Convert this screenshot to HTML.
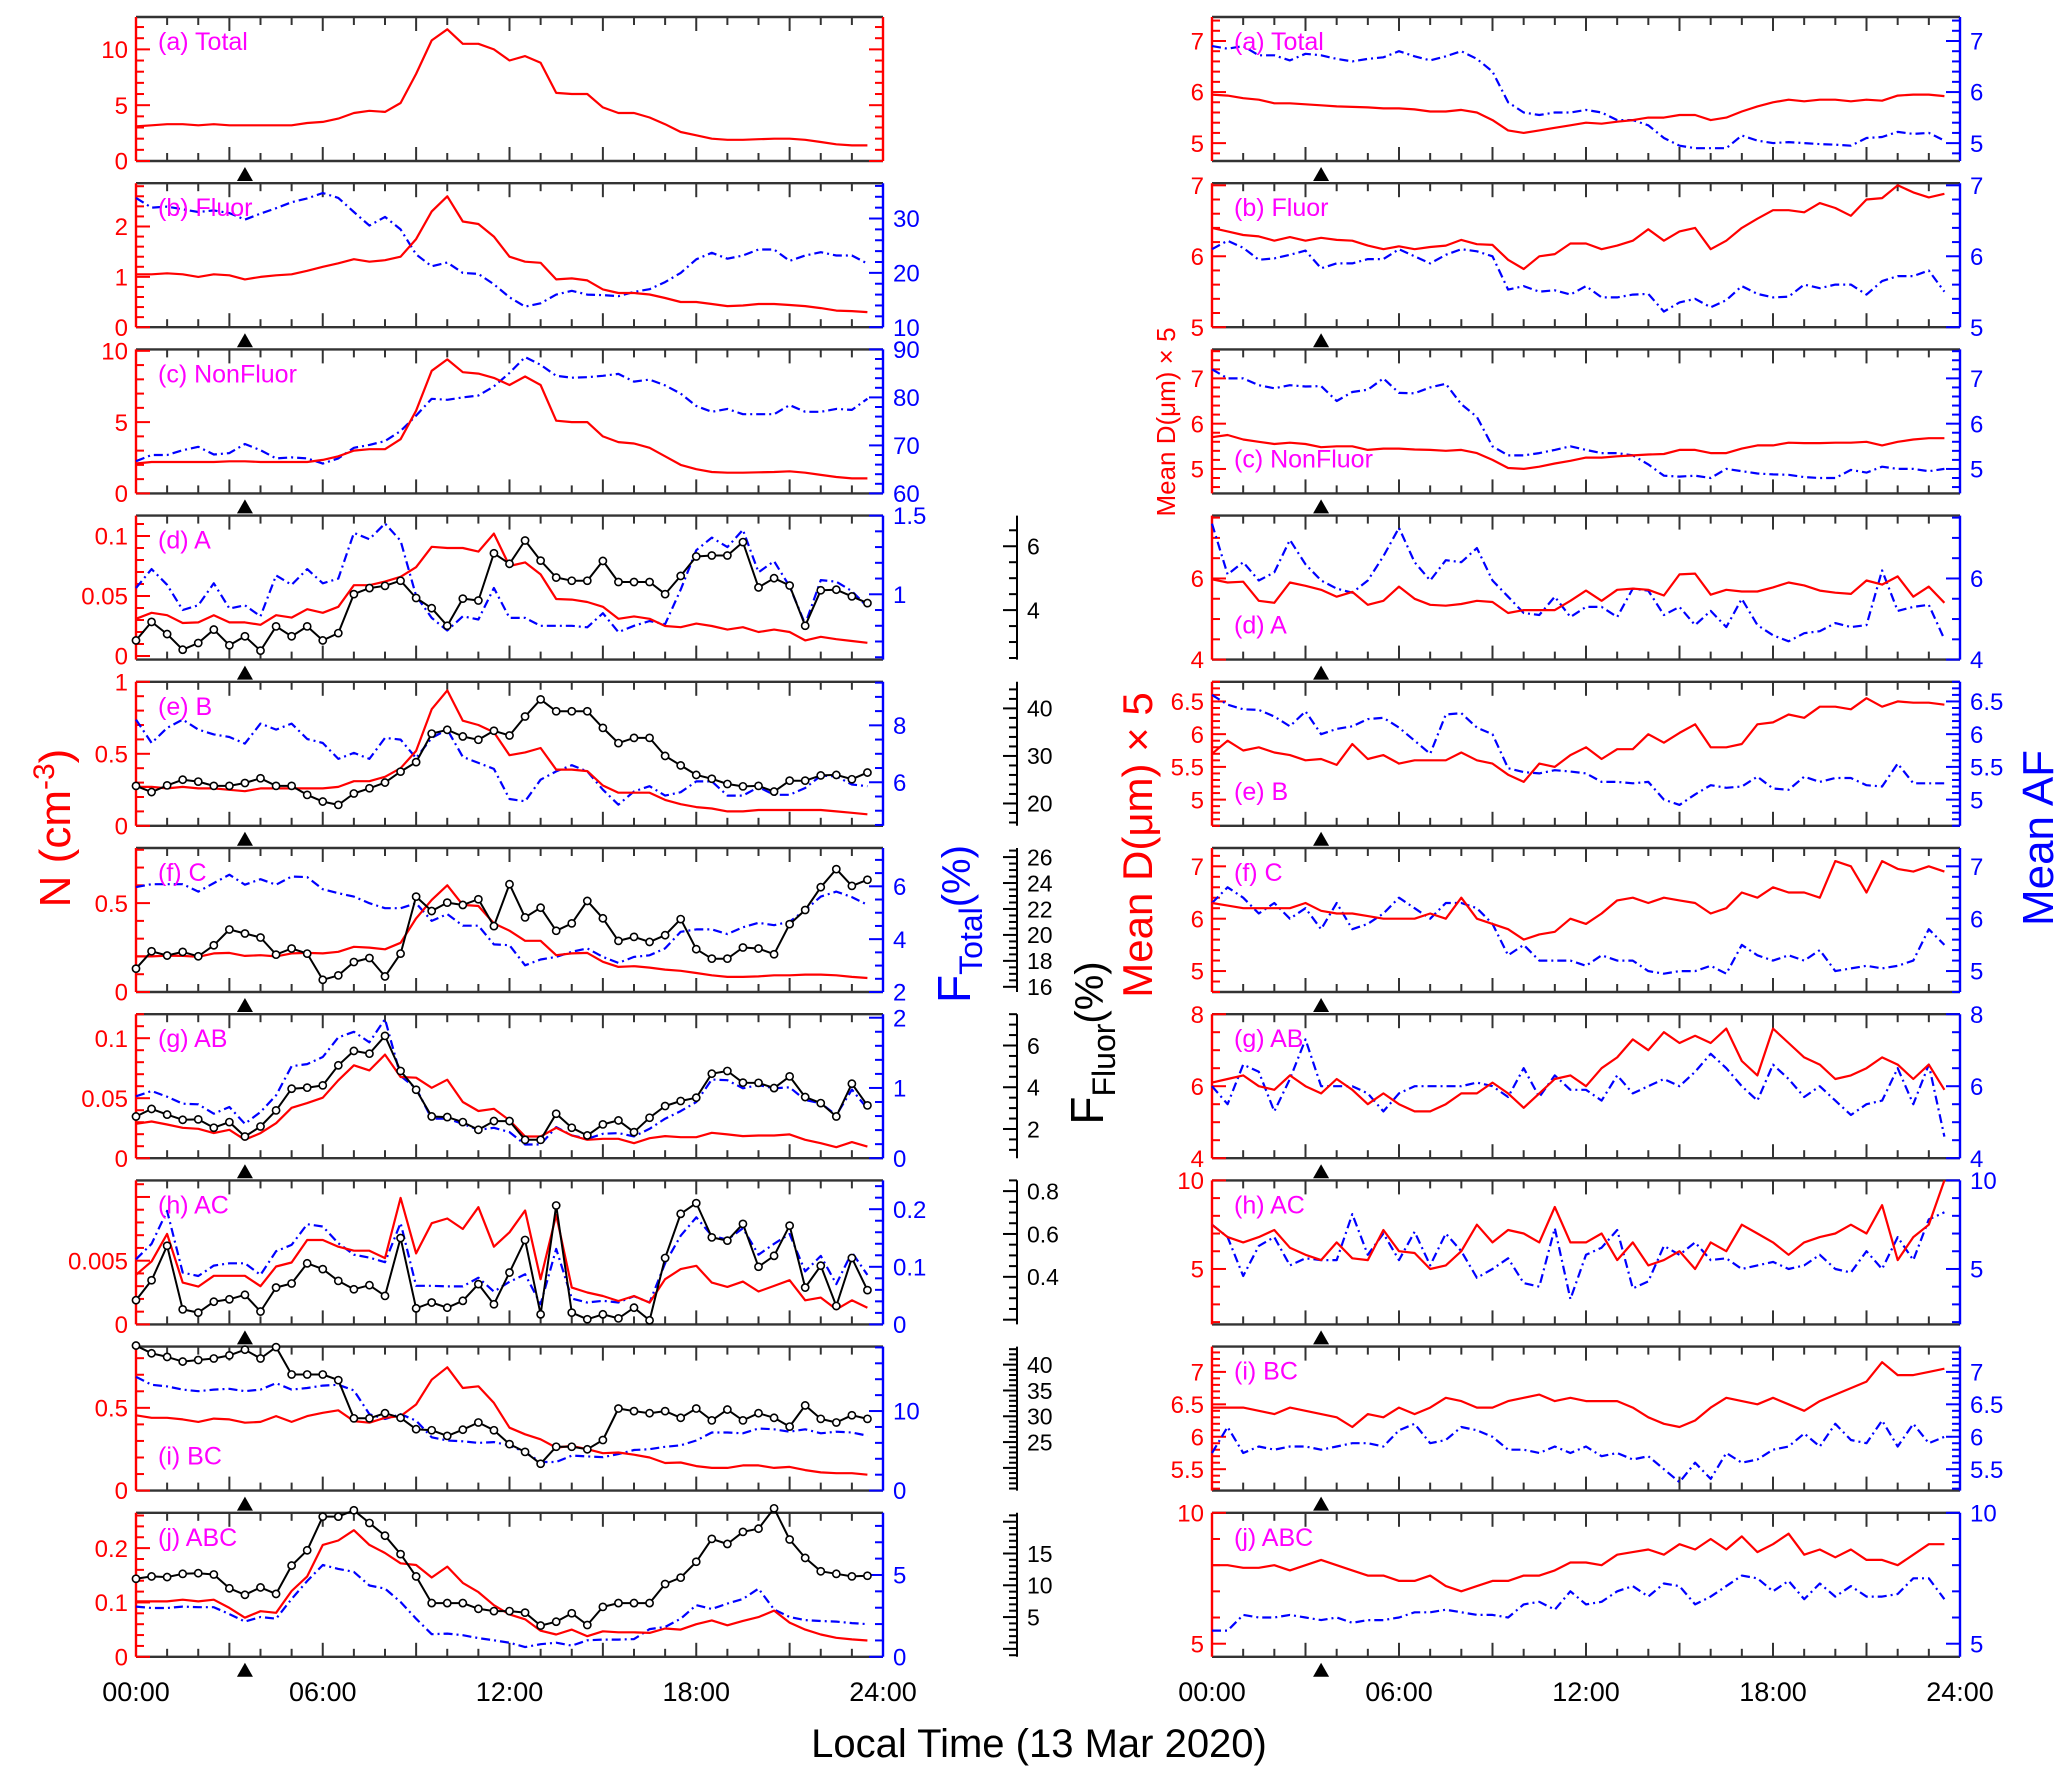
<!DOCTYPE html>
<html><head><meta charset="utf-8"><title>Time series</title>
<style>html,body{margin:0;padding:0;background:#fff}svg{display:block}text{font-family:"Liberation Sans",Arial,sans-serif}</style>
</head><body>
<svg id="chart" xmlns="http://www.w3.org/2000/svg" width="2067" height="1781" viewBox="0 0 2067 1781">
<rect width="2067" height="1781" fill="#fff"/>
<text transform="translate(70,828) rotate(-90)" text-anchor="middle" font-size="44" fill="#f00">N (cm<tspan font-size="30" dy="-16">-3</tspan><tspan dy="16">)</tspan></text>
<text transform="translate(970,924) rotate(-90)" text-anchor="middle" font-size="46" fill="#00f">F<tspan font-size="32" dy="12">Total</tspan><tspan font-size="40" dy="-12">(%)</tspan></text>
<text transform="translate(1103,1043) rotate(-90)" text-anchor="middle" font-size="46" fill="#000">F<tspan font-size="32" dy="12">Fluor</tspan><tspan font-size="40" dy="-12">(%)</tspan></text>
<text transform="translate(1175,422) rotate(-90)" text-anchor="middle" font-size="26" fill="#f00">Mean D(μm) × 5</text>
<text transform="translate(1152,845) rotate(-90)" text-anchor="middle" font-size="42" fill="#f00">Mean D(μm) × 5</text>
<text transform="translate(2053,838) rotate(-90)" text-anchor="middle" font-size="44" fill="#00f">Mean AF</text>
<text x="1039" y="1757" text-anchor="middle" font-size="40" fill="#000">Local Time (13 Mar 2020)</text>
</svg>
<script>
// ---------- data (48 half-hourly values, 00:00 - 23:30) ----------
const times = [0,0.5,1,1.5,2,2.5,3,3.5,4,4.5,5,5.5,6,6.5,7,7.5,8,8.5,9,9.5,10,10.5,11,11.5,12,12.5,13,13.5,14,14.5,15,15.5,16,16.5,17,17.5,18,18.5,19,19.5,20,20.5,21,21.5,22,22.5,23,23.5];
const xTickLabels = ["00:00","06:00","12:00","18:00","24:00"];
const xTickHours = [0,6,12,18,24];
const markerHour = 3.5;

const aTotalN = [3.1,3.2,3.3,3.3,3.2,3.3,3.2,3.2,3.2,3.2,3.2,3.4,3.5,3.8,4.3,4.5,4.4,5.2,7.8,10.8,11.8,10.5,10.5,10.0,9.0,9.4,8.8,6.1,6.0,6.0,4.8,4.3,4.3,3.9,3.3,2.6,2.3,2.0,1.9,1.9,1.95,2.0,2.0,1.9,1.7,1.5,1.4,1.4];
const bFluorN = [1.05,1.05,1.07,1.05,1.0,1.05,1.03,0.95,1.0,1.03,1.05,1.12,1.2,1.27,1.35,1.3,1.33,1.4,1.75,2.3,2.6,2.1,2.05,1.8,1.4,1.3,1.28,0.95,0.97,0.93,0.75,0.68,0.68,0.65,0.58,0.5,0.5,0.46,0.42,0.43,0.46,0.46,0.44,0.42,0.38,0.33,0.32,0.3];
const bFluorFT = [33.8,32,32.2,31.7,31.2,31.5,31,29.8,30.9,31.9,33,33.7,34.7,33.8,31.2,28.7,30.3,28,23.4,21.2,21.9,20,19.8,17.9,15.5,13.8,14.4,16,16.7,16,15.9,15.7,16.5,17,18.3,20,22.5,23.7,22.6,23.2,24.3,24.3,22.2,23.2,23.8,23.2,23.2,21.7];
const cNonN = [2.1,2.2,2.2,2.2,2.2,2.2,2.25,2.25,2.2,2.2,2.2,2.2,2.35,2.6,3.0,3.1,3.1,3.8,5.8,8.6,9.4,8.5,8.4,8.1,7.6,8.2,7.6,5.1,5.0,5.0,4.0,3.6,3.5,3.2,2.6,2.0,1.7,1.5,1.45,1.45,1.48,1.5,1.55,1.45,1.3,1.15,1.05,1.05];
const cNonFT = [66.7,68,68,69,69.7,68.1,68.4,70.3,69,67.3,67.5,67.3,66.2,67.3,69.5,70.1,70.9,73,76.2,79.7,79.5,80,80.4,82.3,85.1,88.4,86.8,84.5,84.1,84.2,84.5,84.9,83.3,83.7,82.5,80.8,78.2,77,77.6,76.5,76.5,76.5,78.4,77,77,77.6,77.4,79.7];
const dAN = [0.031,0.036,0.034,0.0275,0.028,0.034,0.028,0.028,0.026,0.034,0.032,0.039,0.036,0.041,0.059,0.059,0.062,0.066,0.074,0.091,0.09,0.09,0.087,0.102,0.075,0.078,0.068,0.0475,0.047,0.045,0.041,0.031,0.033,0.031,0.025,0.024,0.027,0.025,0.022,0.024,0.02,0.022,0.02,0.013,0.016,0.014,0.0125,0.011];
const dAFT = [1.04,1.16,1.06,0.90,0.93,1.07,0.91,0.93,0.86,1.12,1.06,1.16,1.07,1.10,1.39,1.35,1.45,1.34,0.99,0.85,0.77,0.86,0.84,1.04,0.85,0.85,0.80,0.80,0.80,0.79,0.88,0.76,0.80,0.83,0.81,1.03,1.28,1.36,1.30,1.41,1.14,1.21,1.05,0.81,1.09,1.08,1.02,0.92];
const dAFF = [3.05,3.63,3.25,2.76,2.97,3.39,2.90,3.18,2.73,3.49,3.18,3.49,3.05,3.28,4.50,4.69,4.76,4.92,4.38,4.06,3.51,4.36,4.30,5.78,5.45,6.18,5.55,5.02,4.92,4.92,5.54,4.88,4.88,4.88,4.50,5.07,5.68,5.71,5.71,6.13,4.71,5.00,4.77,3.51,4.62,4.64,4.43,4.22];
const eBN = [0.27,0.27,0.26,0.27,0.26,0.26,0.25,0.24,0.26,0.26,0.26,0.26,0.26,0.27,0.31,0.31,0.34,0.40,0.52,0.81,0.94,0.73,0.70,0.65,0.49,0.51,0.54,0.39,0.39,0.38,0.28,0.23,0.23,0.23,0.18,0.15,0.13,0.12,0.10,0.10,0.11,0.11,0.11,0.11,0.11,0.10,0.09,0.08];
const eBFT = [8.20,7.38,7.91,8.20,7.85,7.68,7.59,7.36,8.06,7.85,8.06,7.52,7.38,6.82,7.03,6.82,7.56,7.50,6.85,7.56,7.85,6.89,6.68,6.47,5.41,5.33,6.09,6.38,6.60,6.38,5.74,5.21,5.68,5.86,5.53,5.65,6.03,6.03,5.53,5.53,5.83,5.56,5.56,5.80,6.23,6.21,5.92,5.86];
const eBFF = [23.7,22.4,23.8,25.0,24.6,23.7,23.7,24.3,25.3,23.7,23.7,21.8,20.4,19.7,22.1,23.2,24.4,26.7,28.7,34.7,35.5,34.1,33.4,35.3,34.3,38.3,41.9,39.4,39.4,39.4,35.9,32.7,33.8,33.8,30.0,28.0,26.0,25.2,24.1,23.6,23.7,22.5,24.8,24.8,25.9,26.0,25.1,26.5];
const fCN = [0.20,0.20,0.205,0.203,0.198,0.217,0.22,0.203,0.207,0.20,0.217,0.22,0.217,0.226,0.254,0.25,0.24,0.277,0.414,0.518,0.60,0.49,0.484,0.386,0.345,0.288,0.288,0.207,0.217,0.22,0.17,0.141,0.145,0.137,0.126,0.119,0.107,0.094,0.085,0.085,0.088,0.094,0.094,0.098,0.098,0.094,0.085,0.079];
const fCFT = [5.97,6.08,6.08,6.08,5.80,6.12,6.44,6.06,6.27,6.06,6.37,6.35,5.89,5.74,5.61,5.36,5.17,5.17,5.36,4.69,4.95,4.51,4.51,3.80,3.77,3.01,3.23,3.33,3.52,3.65,3.33,3.10,3.33,3.39,3.65,4.28,4.37,4.37,4.19,4.45,4.62,4.53,4.66,5.10,5.61,5.80,5.59,5.30];
const fCFF = [17.4,18.74,18.41,18.69,18.35,19.2,20.42,20.11,19.8,18.48,18.95,18.56,16.54,16.88,17.91,18.22,16.8,18.56,22.95,21.84,22.49,22.31,22.75,20.68,23.91,21.35,22.1,20.32,20.89,22.62,21.28,19.54,19.85,19.46,19.98,21.22,18.9,18.17,18.17,19.03,18.95,18.51,20.83,21.92,23.68,25.07,23.78,24.25];
const gABN = [0.0287,0.0306,0.0281,0.0253,0.0245,0.0209,0.0237,0.0153,0.0209,0.0292,0.0420,0.0459,0.0504,0.0649,0.0774,0.0732,0.0863,0.0677,0.0671,0.0587,0.0654,0.0468,0.0393,0.0412,0.0316,0.0181,0.0181,0.0253,0.0189,0.0153,0.0162,0.0162,0.0125,0.0167,0.0184,0.0175,0.0175,0.0212,0.0198,0.0184,0.0189,0.0189,0.0198,0.0153,0.0125,0.0092,0.0134,0.0097];
const gABFT = [0.881,0.957,0.876,0.776,0.767,0.633,0.729,0.490,0.657,0.895,1.31,1.34,1.44,1.72,1.80,1.65,1.98,1.17,0.995,0.562,0.562,0.490,0.405,0.433,0.371,0.195,0.195,0.443,0.324,0.276,0.348,0.357,0.310,0.419,0.562,0.671,0.800,1.12,1.11,0.995,1.04,0.995,1.01,0.829,0.781,0.614,0.976,0.705];
const gABFF = [2.60,2.96,2.69,2.44,2.46,2.06,2.33,1.64,2.12,2.89,3.93,3.98,4.09,5.05,5.74,5.61,6.46,4.78,3.88,2.60,2.57,2.33,1.96,2.38,2.38,1.48,1.48,2.73,2.06,1.69,2.22,2.41,1.85,2.54,3.10,3.34,3.50,4.65,4.78,4.22,4.21,3.96,4.52,3.53,3.24,2.60,4.17,3.13];
const hACN = [0.00389,0.00494,0.0071,0.00328,0.00297,0.00381,0.00381,0.00381,0.003,0.00454,0.00486,0.00662,0.00662,0.0061,0.00578,0.00578,0.0052,0.00993,0.00557,0.00794,0.00831,0.00749,0.0092,0.0061,0.00723,0.00894,0.00355,0.00859,0.00289,0.0025,0.00223,0.00184,0.00223,0.00171,0.00355,0.00434,0.0046,0.00328,0.00294,0.00336,0.00258,0.00302,0.00347,0.00189,0.0021,0.00118,0.00189,0.00131];
const hACFT = [0.113,0.140,0.197,0.090,0.084,0.102,0.106,0.106,0.086,0.127,0.138,0.174,0.170,0.141,0.121,0.116,0.108,0.176,0.067,0.067,0.066,0.066,0.081,0.057,0.074,0.087,0.035,0.131,0.045,0.038,0.041,0.038,0.049,0.038,0.106,0.154,0.186,0.154,0.147,0.167,0.121,0.140,0.157,0.092,0.119,0.070,0.125,0.086];
const hACFF = [0.291,0.384,0.545,0.248,0.233,0.284,0.295,0.316,0.238,0.35,0.369,0.463,0.436,0.381,0.342,0.361,0.311,0.581,0.253,0.28,0.256,0.288,0.366,0.272,0.42,0.572,0.225,0.733,0.233,0.202,0.225,0.206,0.256,0.197,0.488,0.694,0.744,0.584,0.569,0.647,0.447,0.498,0.639,0.35,0.452,0.264,0.488,0.338];
const iBCN = [0.455,0.44,0.44,0.43,0.415,0.435,0.43,0.41,0.415,0.45,0.415,0.45,0.47,0.485,0.42,0.41,0.44,0.45,0.52,0.67,0.745,0.62,0.63,0.53,0.38,0.34,0.31,0.26,0.27,0.25,0.226,0.23,0.217,0.2,0.167,0.17,0.148,0.137,0.137,0.152,0.152,0.137,0.143,0.124,0.11,0.105,0.105,0.096];
const iBCFT = [14.3,13.3,13.1,12.7,12.5,12.7,12.8,12.5,12.7,13.5,12.7,12.9,13.2,13.3,12.6,9.6,9.0,9.6,8.8,6.7,6.3,6.2,6.0,6.1,5.7,4.8,3.6,3.6,4.4,4.3,4.2,4.6,5.1,5.2,5.5,5.7,6.3,7.3,7.3,7.2,7.8,7.7,7.4,7.7,7.2,7.4,7.3,6.9];
const iBCFF = [43.7,42.2,41.5,40.6,40.9,41.2,41.8,42.9,41.2,43.4,38.1,38.1,38.1,37.0,29.6,29.6,30.6,29.7,27.5,27.3,26.2,27.4,28.8,27.3,24.6,23.1,20.8,24.1,24.1,23.6,25.4,31.5,31.0,30.6,31.0,29.7,31.5,29.2,31.3,29.2,30.6,29.7,28.0,32.1,29.5,28.8,30.2,29.5];
const jABCN = [0.102,0.102,0.102,0.105,0.102,0.105,0.09,0.072,0.084,0.081,0.121,0.148,0.206,0.214,0.233,0.206,0.191,0.172,0.169,0.146,0.166,0.136,0.119,0.095,0.078,0.069,0.048,0.041,0.05,0.038,0.047,0.045,0.045,0.044,0.052,0.05,0.06,0.067,0.058,0.066,0.073,0.085,0.063,0.05,0.041,0.035,0.032,0.030];
const jABCFT = [3.07,2.98,2.98,3.07,3.03,3.03,2.61,2.15,2.43,2.33,3.53,4.63,5.61,5.37,5.19,4.36,4.17,3.35,2.33,1.38,1.42,1.32,1.14,1.01,0.86,0.59,0.77,0.86,0.68,1.01,1.05,1.05,1.08,1.69,1.82,2.33,3.16,2.92,3.25,3.53,4.17,2.89,2.43,2.24,2.19,2.15,2.06,2.0];
const jABCFF = [11.03,11.39,11.29,11.8,11.9,11.7,9.52,8.5,9.66,8.64,13.1,15.5,20.8,20.8,21.8,19.8,17.8,14.9,11.39,7.2,7.2,7.2,6.3,5.94,5.94,5.7,3.66,4.27,5.6,3.75,6.6,7.2,7.2,7.2,10.2,11.2,13.7,17.3,16.5,18.4,18.9,22.1,17.2,14.3,12.2,11.8,11.4,11.5];

const aD = [5.95,5.93,5.88,5.85,5.78,5.78,5.76,5.74,5.72,5.71,5.7,5.68,5.68,5.66,5.62,5.62,5.65,5.6,5.45,5.25,5.2,5.25,5.3,5.35,5.4,5.38,5.42,5.45,5.5,5.5,5.55,5.55,5.45,5.5,5.62,5.72,5.8,5.85,5.82,5.85,5.85,5.82,5.85,5.83,5.93,5.95,5.95,5.92];
const aAF = [6.9,6.85,6.9,6.72,6.72,6.62,6.75,6.72,6.65,6.6,6.65,6.68,6.8,6.7,6.62,6.7,6.8,6.65,6.4,5.8,5.6,5.55,5.6,5.6,5.65,5.6,5.45,5.45,5.35,5.1,4.95,4.9,4.9,4.9,5.15,5.05,5.0,5.02,5.0,4.98,4.97,4.95,5.1,5.12,5.22,5.18,5.2,5.05];
const bD = [6.4,6.35,6.3,6.28,6.22,6.27,6.22,6.26,6.23,6.22,6.15,6.1,6.14,6.1,6.13,6.15,6.23,6.17,6.16,5.95,5.82,6.0,6.03,6.18,6.18,6.1,6.15,6.22,6.38,6.22,6.35,6.4,6.1,6.22,6.4,6.53,6.65,6.65,6.62,6.75,6.68,6.57,6.8,6.82,7.0,6.9,6.83,6.88];
const bAF = [6.1,6.22,6.12,5.95,5.97,6.02,6.08,5.83,5.9,5.9,5.96,5.96,6.1,6.0,5.9,6.02,6.1,6.07,6.0,5.53,5.58,5.5,5.52,5.46,5.58,5.42,5.42,5.46,5.47,5.22,5.35,5.4,5.28,5.38,5.58,5.47,5.42,5.43,5.6,5.55,5.6,5.6,5.46,5.65,5.72,5.72,5.8,5.5];
const cD = [5.7,5.75,5.65,5.6,5.55,5.58,5.55,5.48,5.5,5.5,5.42,5.45,5.45,5.43,5.42,5.4,5.42,5.35,5.2,5.02,5.0,5.05,5.12,5.18,5.25,5.25,5.28,5.3,5.32,5.33,5.42,5.42,5.35,5.35,5.45,5.52,5.52,5.58,5.57,5.57,5.58,5.58,5.6,5.52,5.6,5.65,5.68,5.68];
const cAF = [7.2,7.0,7.0,6.85,6.78,6.85,6.82,6.83,6.5,6.7,6.75,7.0,6.68,6.67,6.8,6.88,6.43,6.15,5.5,5.3,5.3,5.35,5.42,5.5,5.42,5.35,5.35,5.3,5.1,4.85,4.83,4.85,4.8,5.0,4.95,4.9,4.88,4.87,4.82,4.8,4.8,4.98,4.92,5.05,5.0,5.0,4.95,5.0];
const dD = [5.98,5.9,5.92,5.45,5.4,5.9,5.82,5.72,5.55,5.67,5.35,5.45,5.8,5.5,5.35,5.33,5.37,5.45,5.42,5.15,5.22,5.22,5.22,5.45,5.7,5.45,5.72,5.75,5.72,5.58,6.1,6.12,5.6,5.72,5.68,5.68,5.78,5.9,5.83,5.7,5.65,5.62,5.95,5.85,6.05,5.55,5.8,5.4];
const dAF = [7.35,6.1,6.4,5.95,6.15,6.95,6.35,5.95,5.75,5.65,5.95,6.55,7.25,6.4,5.95,6.45,6.4,6.75,5.95,5.55,5.15,5.1,5.55,5.05,5.3,5.3,5.05,5.75,5.7,5.1,5.3,4.85,5.2,4.8,5.5,4.85,4.6,4.45,4.65,4.7,4.9,4.8,4.85,6.2,5.2,5.3,5.35,4.5];
const eD = [5.7,5.9,5.75,5.8,5.72,5.68,5.6,5.62,5.53,5.85,5.62,5.68,5.55,5.6,5.6,5.6,5.72,5.6,5.55,5.38,5.27,5.55,5.5,5.68,5.8,5.62,5.77,5.77,6.0,5.87,6.02,6.15,5.8,5.8,5.85,6.15,6.18,6.3,6.25,6.42,6.42,6.38,6.55,6.42,6.5,6.48,6.48,6.45];
const eAF = [6.6,6.45,6.38,6.37,6.27,6.12,6.35,6.0,6.08,6.12,6.23,6.25,6.1,5.9,5.7,6.3,6.32,6.1,6.0,5.48,5.42,5.4,5.45,5.43,5.4,5.27,5.27,5.25,5.27,5.0,4.92,5.08,5.22,5.18,5.2,5.35,5.17,5.15,5.35,5.27,5.33,5.33,5.22,5.2,5.55,5.25,5.25,5.25];
const fD = [6.3,6.25,6.2,6.2,6.2,6.2,6.3,6.15,6.1,6.1,6.05,6.0,6.0,6.0,6.1,6.0,6.4,6.0,5.9,5.8,5.6,5.7,5.75,6.0,5.9,6.1,6.35,6.4,6.3,6.4,6.35,6.3,6.1,6.2,6.5,6.4,6.6,6.5,6.5,6.4,7.1,7.0,6.5,7.1,6.95,6.9,7.0,6.9];
const fAF = [6.3,6.6,6.4,6.1,6.3,6.0,6.2,5.8,6.3,5.8,5.9,6.1,6.4,6.2,6.0,6.3,6.3,6.2,5.9,5.3,5.5,5.2,5.2,5.2,5.1,5.3,5.2,5.2,5.0,4.95,5.0,5.0,5.1,4.95,5.5,5.3,5.2,5.3,5.2,5.4,5.0,5.05,5.1,5.05,5.1,5.2,5.8,5.5];
const gD = [6.1,6.2,6.3,6.0,5.9,6.3,6.0,5.8,6.2,5.9,5.5,5.8,5.5,5.3,5.3,5.5,5.8,5.8,6.1,5.8,5.4,5.8,6.2,6.3,6.0,6.5,6.8,7.3,7.0,7.5,7.2,7.4,7.2,7.6,6.7,6.3,7.6,7.2,6.8,6.6,6.2,6.3,6.5,6.8,6.6,6.2,6.6,5.9];
const gAF = [6.0,5.5,6.6,6.4,5.3,6.2,7.3,6.0,6.0,6.0,5.8,5.3,5.8,6.0,6.0,6.0,6.0,6.1,6.0,5.7,6.5,5.7,6.3,5.9,5.9,5.6,6.3,5.8,6.0,6.2,6.0,6.4,6.9,6.5,6.0,5.6,6.6,6.2,5.7,6.0,5.6,5.2,5.5,5.6,6.5,5.5,6.6,4.6];
const hD = [7.5,6.8,6.5,6.8,7.2,6.2,5.8,5.5,6.5,5.6,5.5,7.2,6.0,5.9,5.0,5.2,6.0,7.5,6.5,7.2,7.0,6.5,8.5,6.5,6.5,7.0,5.5,6.5,5.2,5.5,6.0,5.0,6.5,6.0,7.5,7.0,6.5,5.8,6.5,6.8,7.0,7.5,7.0,8.6,5.5,6.8,7.5,10];
const hAF = [7.5,6.8,4.6,6.3,6.8,5.2,5.6,5.5,5.5,8.1,5.8,7.0,5.5,7.1,5.2,7.0,6.0,4.5,5.0,5.6,4.2,4.0,7.3,3.3,5.8,6.2,7.2,3.9,4.3,6.3,5.8,6.5,5.5,5.6,5.0,5.2,5.4,5.0,5.2,5.8,5.0,4.8,6.0,5.0,6.8,5.5,7.8,8.2];
const iD = [6.45,6.45,6.45,6.4,6.35,6.45,6.4,6.35,6.3,6.15,6.35,6.3,6.45,6.35,6.45,6.6,6.55,6.45,6.45,6.55,6.6,6.65,6.55,6.6,6.55,6.55,6.55,6.45,6.3,6.2,6.15,6.25,6.45,6.6,6.55,6.5,6.6,6.5,6.4,6.55,6.65,6.75,6.85,7.15,6.95,6.95,7.0,7.05];
const iAF = [5.75,6.15,5.75,5.85,5.8,5.85,5.85,5.8,5.85,5.9,5.9,5.85,6.1,6.2,5.9,5.95,6.15,6.1,6.0,5.8,5.8,5.75,5.85,5.75,5.85,5.7,5.75,5.65,5.7,5.5,5.3,5.6,5.35,5.75,5.6,5.65,5.8,5.85,6.05,5.85,6.2,5.95,5.9,6.25,5.85,6.2,5.9,6.0];
const jD = [8.0,8.0,7.9,7.9,8.0,7.8,8.0,8.2,8.0,7.8,7.6,7.6,7.4,7.4,7.6,7.2,7.0,7.2,7.4,7.4,7.6,7.6,7.8,8.1,8.1,8.0,8.4,8.5,8.6,8.4,8.8,8.6,9.0,8.6,9.1,8.5,8.8,9.2,8.4,8.6,8.3,8.6,8.2,8.2,8.0,8.4,8.8,8.8];
const jAF = [5.5,5.5,6.1,6.0,6.0,6.1,6.0,5.9,6.0,5.8,5.9,5.9,6.0,6.2,6.2,6.3,6.2,6.1,6.1,6.0,6.5,6.6,6.3,7.0,6.5,6.6,7.0,7.2,6.8,7.3,7.2,6.5,6.8,7.2,7.6,7.5,7.0,7.4,6.7,7.3,6.8,7.2,6.8,6.8,6.9,7.5,7.5,6.7];

// ---------- layout ----------
const svg = document.getElementById('chart');
const NS = 'http://www.w3.org/2000/svg';
const RED = '#ff0000', BLUE = '#0000ff', MAG = '#ff00ff', DARK = '#333333';
function mk(tag, attrs, parent) {
  const e = document.createElementNS(NS, tag);
  for (const k in attrs) e.setAttribute(k, attrs[k]);
  (parent || svg).appendChild(e);
  return e;
}
function decimals(s) { const t = String(s); const i = t.indexOf('.'); return i < 0 ? 0 : t.length - i - 1; }

const COLS = [{x0: 136, w: 747}, {x0: 1212, w: 748}];
function panelTop(i) { return 17 + 166.2 * i; }
const PH = 144;

function drawYAxis(g, ax, x, top, dir, color, labelSide, fs, showLabels) {
  const ys = v => top + PH - (v - ax.min) / (ax.max - ax.min) * PH;
  const dec = decimals(ax.major);
  const lmin = ax.lmin !== undefined ? ax.lmin : -Infinity;
  const lmax = ax.lmax !== undefined ? ax.lmax : Infinity;
  const k0 = Math.ceil(ax.min / ax.minor - 1e-6), k1 = Math.floor(ax.max / ax.minor + 1e-6);
  for (let k = k0; k <= k1; k++) {
    const v = k * ax.minor;
    const isMaj = Math.abs(v / ax.major - Math.round(v / ax.major)) < 1e-6;
    const y = ys(v);
    const t = mk('line', {x1: x, x2: x + dir * (isMaj ? 14 : 8), y1: y, y2: y, stroke: color, 'stroke-width': 2}, g);
    
    
    if (isMaj && showLabels && v >= lmin - 1e-9 && v <= lmax + 1e-9) {
      const lbl = Math.abs(v) < 1e-9 ? '0' : String(parseFloat(v.toFixed(dec)));
      const tx = mk('text', {x: labelSide < 0 ? x - 8 : x + 10, y: y + fs * 0.36, 'font-size': fs, fill: color, 'text-anchor': labelSide < 0 ? 'end' : 'start'}, g);
      tx.textContent = lbl;
      
      
    }
  }
  return ys;
}

function drawSeries(g, data, xs, ys, kind) {
  const pts = data.map((v, i) => xs(times[i]).toFixed(1) + ',' + ys(v).toFixed(1)).join(' ');
  const attrs = {points: pts, fill: 'none', 'stroke-width': 2.2, 'stroke-linejoin': 'round'};
  if (kind === 'red') attrs.stroke = RED;
  if (kind === 'blue') { attrs.stroke = BLUE; attrs['stroke-dasharray'] = '9,4,2,4'; }
  if (kind === 'black') { attrs.stroke = '#000'; attrs['stroke-width'] = 2; }
  const pl = mk('polyline', attrs, g);
  
  
  if (kind === 'black') {
    data.forEach((v, i) => {
      const c = mk('circle', {cx: xs(times[i]), cy: ys(v), r: 3.6, fill: '#fff', stroke: '#000', 'stroke-width': 1.6}, g);
      
      
    });
  }
}

function drawPanel(col, row, p) {
  const {x0, w} = COLS[col];
  const top = panelTop(row), bot = top + PH;
  const g = mk('g', {});
  
  
  const xs = t => x0 + t / 24 * w;
  for (const yy of [top, bot]) {
    const l = mk('line', {x1: x0, x2: x0 + w, y1: yy, y2: yy, stroke: DARK, 'stroke-width': 2.4}, g);
    
    
  }
  for (let h = 1; h < 24; h++) {
    const len = h % 3 === 0 ? 14 : 8;
    const x = xs(h);
    const t1 = mk('line', {x1: x, x2: x, y1: bot, y2: bot - len, stroke: DARK, 'stroke-width': 2}, g);
    
    
    const t2 = mk('line', {x1: x, x2: x, y1: top, y2: top + len, stroke: DARK, 'stroke-width': 2}, g);
    
    
  }
  const lf = mk('line', {x1: x0, x2: x0, y1: top, y2: bot, stroke: RED, 'stroke-width': 2.4}, g);
  
  
  const ysL = drawYAxis(g, p.left, x0, top, 1, RED, -1, 24, true);
  const rc = p.rightColor || BLUE;
  const rf = mk('line', {x1: x0 + w, x2: x0 + w, y1: top, y2: bot, stroke: rc, 'stroke-width': 2.4}, g);
  
  
  const ysR = drawYAxis(g, p.right || p.left, x0 + w, top, -1, rc, 1, 24, !!p.right);
  let ysB = null;
  if (p.black) {
    const bx = 1017;
    const bl = mk('line', {x1: bx, x2: bx, y1: top, y2: bot, stroke: '#000', 'stroke-width': 2}, g);
    
    
    ysB = drawYAxis(g, p.black, bx, top, -1, '#000', 1, 23, true);
  }
  if (p.blueData) drawSeries(g, p.blueData, xs, ysR, 'blue');
  if (p.redData) drawSeries(g, p.redData, xs, ysL, 'red');
  if (p.blackData) drawSeries(g, p.blackData, xs, ysB, 'black');
  const lb = mk('text', {x: x0 + 22, y: p.labelBottom ? top + 118 : top + 33, 'font-size': 25, fill: MAG}, g);
  lb.textContent = p.label;
  
  
  const mx = xs(markerHour);
  const tri = mk('polygon', {points: `${mx - 8},${bot + 20} ${mx + 8},${bot + 20} ${mx},${bot + 6}`, fill: '#000'}, g);
  
  
  if (row === 9) {
    xTickLabels.forEach((s, i) => {
      const tx = mk('text', {x: xs(xTickHours[i]), y: bot + 44, 'font-size': 27, 'text-anchor': 'middle', fill: '#000'}, g);
      tx.textContent = s;
      
      
    });
  }
}

const leftPanels = [
  {id: 'a', label: '(a) Total', left: {min: 0, max: 12.9, major: 5, minor: 1}, rightColor: RED, redData: aTotalN},
  {id: 'b', label: '(b) Fluor', left: {min: 0, max: 2.86, major: 1, minor: 0.2}, right: {min: 10, max: 36.5, major: 10, minor: 2}, redData: bFluorN, blueData: bFluorFT},
  {id: 'c', label: '(c) NonFluor', left: {min: 0, max: 10.1, major: 5, minor: 1}, right: {min: 60, max: 90, major: 10, minor: 2}, redData: cNonN, blueData: cNonFT},
  {id: 'd', label: '(d) A', left: {min: -0.003, max: 0.117, major: 0.05, minor: 0.01}, right: {min: 0.585, max: 1.5, major: 0.5, minor: 0.1}, black: {min: 2.45, max: 6.96, major: 2, minor: 0.5}, redData: dAN, blueData: dAFT, blackData: dAFF},
  {id: 'e', label: '(e) B', left: {min: 0, max: 1.0, major: 0.5, minor: 0.1}, right: {min: 4.47, max: 9.53, major: 2, minor: 0.5}, black: {min: 15.3, max: 45.6, major: 10, minor: 2}, redData: eBN, blueData: eBFT, blackData: eBFF},
  {id: 'f', label: '(f) C', left: {min: 0, max: 0.81, major: 0.5, minor: 0.1}, right: {min: 2, max: 7.45, major: 2, minor: 0.5}, black: {min: 15.6, max: 26.7, major: 2, minor: 0.5}, redData: fCN, blueData: fCFT, blackData: fCFF},
  {id: 'g', label: '(g) AB', left: {min: 0, max: 0.12, major: 0.05, minor: 0.01}, right: {min: 0, max: 2.05, major: 1, minor: 0.2}, black: {min: 0.6, max: 7.5, major: 2, minor: 0.5}, redData: gABN, blueData: gABFT, blackData: gABFF},
  {id: 'h', label: '(h) AC', left: {min: 0, max: 0.0113, major: 0.005, minor: 0.001, lmax: 0.005}, right: {min: 0, max: 0.25, major: 0.1, minor: 0.02}, black: {min: 0.178, max: 0.85, major: 0.2, minor: 0.05, lmin: 0.4}, redData: hACN, blueData: hACFT, blackData: hACFF},
  {id: 'i', label: '(i) BC', labelBottom: true, left: {min: 0, max: 0.87, major: 0.5, minor: 0.1}, right: {min: 0, max: 18.1, major: 10, minor: 2}, black: {min: 15.6, max: 43.5, major: 5, minor: 1, lmin: 25}, redData: iBCN, blueData: iBCFT, blackData: iBCFF},
  {id: 'j', label: '(j) ABC', left: {min: 0, max: 0.265, major: 0.1, minor: 0.02}, right: {min: 0, max: 8.8, major: 5, minor: 1}, black: {min: -1.25, max: 21.4, major: 5, minor: 1, lmin: 5, lmax: 15}, redData: jABCN, blueData: jABCFT, blackData: jABCFF}
];
const rightPanels = [
  {id: 'a', label: '(a) Total', r: [4.65, 7.47, 1, 0.2], d: aD, af: aAF},
  {id: 'b', label: '(b) Fluor', r: [5, 7.03, 1, 0.2], d: bD, af: bAF},
  {id: 'c', label: '(c) NonFluor', bottom: true, r: [4.46, 7.64, 1, 0.2], d: cD, af: cAF},
  {id: 'd', label: '(d) A', bottom: true, r: [4, 7.55, 2, 0.5], d: dD, af: dAF},
  {id: 'e', label: '(e) B', bottom: true, r: [4.6, 6.8, 0.5, 0.1], d: eD, af: eAF},
  {id: 'f', label: '(f) C', r: [4.6, 7.35, 1, 0.2], d: fD, af: fAF},
  {id: 'g', label: '(g) AB', r: [4, 8, 2, 0.5], d: gD, af: gAF},
  {id: 'h', label: '(h) AC', r: [1.87, 10, 5, 1], d: hD, af: hAF},
  {id: 'i', label: '(i) BC', r: [5.17, 7.39, 0.5, 0.1], d: iD, af: iAF},
  {id: 'j', label: '(j) ABC', r: [4.5, 10, 5, 1], d: jD, af: jAF}
];

leftPanels.forEach((p, i) => drawPanel(0, i, p));
rightPanels.forEach((q, i) => {
  const ax = {min: q.r[0], max: q.r[1], major: q.r[2], minor: q.r[3]};
  drawPanel(1, i, {id: q.id, label: q.label, labelBottom: q.bottom, left: ax, right: ax, redData: q.d, blueData: q.af});
});
</script>
</body></html>
